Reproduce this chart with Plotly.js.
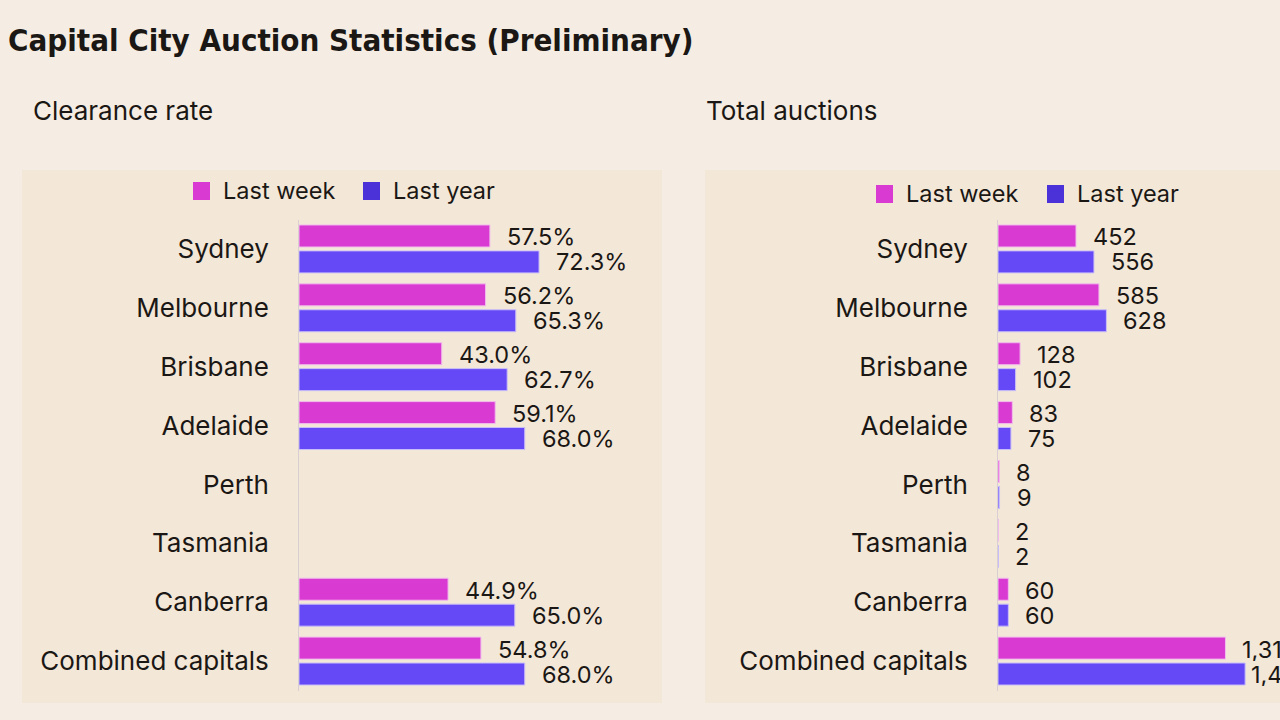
<!DOCTYPE html>
<html>
<head>
<meta charset="utf-8">
<script src="https://cdn.plot.ly/plotly-3.0.1.min.js"></script>
<style>
  html, body { margin: 0; padding: 0; background: #f5ede3; overflow: hidden; }
  #chart { width: 1280px; height: 720px; }
</style>
</head>
<body>
<div id="chart"></div>
<script>
// Capital city auction results, preliminary figures
const cities = ["Sydney", "Melbourne", "Brisbane", "Adelaide", "Perth", "Tasmania", "Canberra", "Combined capitals"];
const clearanceLastWeek = [57.5, 56.2, 43.0, 59.1, null, null, 44.9, 54.8];
const clearanceLastYear = [72.3, 65.3, 62.7, 68.0, null, null, 65.0, 68.0];
const auctionsLastWeek = [452, 585, 128, 83, 8, 2, 60, 1318];
const auctionsLastYear = [556, 628, 102, 75, 9, 2, 60, 1432];
const seriesNames = ["Last week", "Last year"];

const W = 1280, H = 720;
const px = v => v / W;
const py = v => 1 - v / H;

const INK = "#1b1714";
const BODY_FONT = "Inter, 'Noto Sans', sans-serif";
const MAGENTA = "#d93ad1";
const BLUE = "#6548f6";
const BLUE_KEY = "#4b31d8";

// horizontal extents of the two plotting areas (pixels) and their value ranges
const LEFT_X = [299, 631], LEFT_RANGE = [0, 100];
const RIGHT_X = [998, 1280], RIGHT_RANGE = [0, 1634];
const LABEL_LIMIT = 1249; // labels on the right panel start no further right than this

function barTrace(name, values, color, lineColor, xa, ya) {
  return {
    type: "bar", orientation: "h", name: name,
    x: values, y: cities, xaxis: xa, yaxis: ya,
    marker: { color: color, line: { color: lineColor, width: 1 } },
    hoverinfo: "skip", showlegend: false
  };
}

const traces = [
  barTrace(seriesNames[0], clearanceLastWeek, MAGENTA, "#f1bdec", "x", "y"),
  barTrace(seriesNames[1], clearanceLastYear, BLUE, "#c9bff8", "x", "y"),
  barTrace(seriesNames[0], auctionsLastWeek, MAGENTA, "#f1bdec", "x2", "y2"),
  barTrace(seriesNames[1], auctionsLastYear, BLUE, "#c9bff8", "x2", "y2")
];

// value labels just past the end of each bar
const annotations = [];
function valueLabels(values, fmt, xref, yref, shift, span, range) {
  values.forEach((v, i) => {
    if (v === null) return;
    const endPx = span[0] + (v - range[0]) / (range[1] - range[0]) * (span[1] - span[0]);
    const xs = Math.min(15, LABEL_LIMIT - endPx);
    annotations.push({
      x: v, y: cities[i], xref: xref, yref: yref,
      text: fmt(v), showarrow: false, xanchor: "left", yanchor: "middle",
      xshift: xs, yshift: shift, height: 23, valign: "middle",
      font: { family: BODY_FONT, size: 23.5, color: INK }
    });
  });
}
const pct = v => v.toFixed(1) + "%";
const num = v => v.toLocaleString("en-US");
valueLabels(clearanceLastWeek, pct, "x", "y", 12, LEFT_X, LEFT_RANGE);
valueLabels(clearanceLastYear, pct, "x", "y", -13, LEFT_X, LEFT_RANGE);
valueLabels(auctionsLastWeek, num, "x2", "y2", 12, RIGHT_X, RIGHT_RANGE);
valueLabels(auctionsLastYear, num, "x2", "y2", -13, RIGHT_X, RIGHT_RANGE);

// panel headings
[["Clearance rate", 31], ["Total auctions", 704]].forEach(([t, x]) => {
  annotations.push({
    text: t, xref: "paper", yref: "paper", x: px(x), y: py(110),
    xanchor: "left", yanchor: "middle", showarrow: false,
    font: { family: BODY_FONT, size: 26, color: INK }
  });
});

// panel backgrounds and legend keys
const shapes = [
  { type: "rect", xref: "paper", yref: "paper", x0: px(22), x1: px(662), y0: py(703), y1: py(170),
    fillcolor: "#f3e7d8", line: { width: 0 }, layer: "below" },
  { type: "rect", xref: "paper", yref: "paper", x0: px(705), x1: px(1300), y0: py(703), y1: py(170),
    fillcolor: "#f3e7d8", line: { width: 0 }, layer: "below" }
];
function legendKeys(xs, yc) {
  const colors = [MAGENTA, BLUE_KEY];
  xs.forEach((x, k) => {
    shapes.push({ type: "rect", xref: "paper", yref: "paper",
      x0: px(x), x1: px(x + 17), y0: py(yc + 9), y1: py(yc - 9),
      fillcolor: colors[k], line: { width: 0 } });
    annotations.push({ text: seriesNames[k], xref: "paper", yref: "paper",
      x: px(x + 28), y: py(yc), xanchor: "left", yanchor: "middle", showarrow: false,
      font: { family: BODY_FONT, size: 23.5, color: INK } });
  });
}
legendKeys([193, 363], 191);
legendKeys([876, 1047], 194);

const yAxisBase = {
  type: "category", autorange: "reversed", domain: [py(690.5), py(219.5)],
  showgrid: false, zeroline: false, ticks: "", ticklabelstandoff: 24,
  showline: true, linecolor: "#d9cfd2", linewidth: 1,
  tickfont: { family: BODY_FONT, size: 26, color: INK }, fixedrange: true
};
const xAxisBase = { showgrid: false, zeroline: false, showticklabels: false, showline: false, fixedrange: true };

const layout = {
  width: W, height: H,
  paper_bgcolor: "#f5ede3", plot_bgcolor: "rgba(0,0,0,0)",
  margin: { l: 0, r: 0, t: 0, b: 0 },
  barmode: "group", bargap: 0.12, bargroupgap: 0.15,
  title: {
    text: "<b>Capital City Auction Statistics (Preliminary)</b>",
    x: px(8), xanchor: "left", xref: "paper", y: py(40), yanchor: "middle", yref: "paper",
    font: { family: "'DejaVu Sans Condensed', 'Liberation Sans Narrow', sans-serif", size: 31, color: INK }
  },
  xaxis: Object.assign({}, xAxisBase, { domain: [px(LEFT_X[0]), px(LEFT_X[1])], range: LEFT_RANGE, anchor: "y" }),
  yaxis: Object.assign({}, yAxisBase, { anchor: "x" }),
  xaxis2: Object.assign({}, xAxisBase, { domain: [px(RIGHT_X[0]), px(RIGHT_X[1])], range: RIGHT_RANGE, anchor: "y2" }),
  yaxis2: Object.assign({}, yAxisBase, { anchor: "x2" }),
  shapes: shapes, annotations: annotations, showlegend: false
};

Plotly.newPlot("chart", traces, layout, { displayModeBar: false, staticPlot: true });
</script>
</body>
</html>
